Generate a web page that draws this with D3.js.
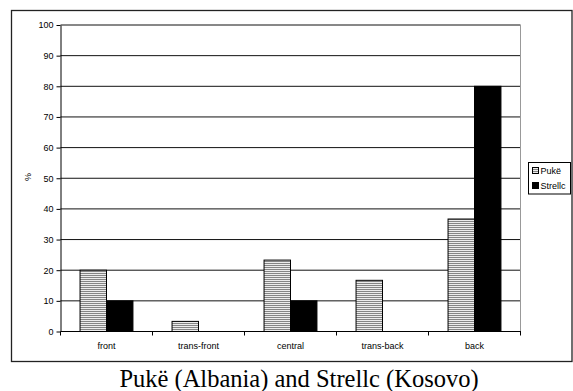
<!DOCTYPE html>
<html>
<head>
<meta charset="utf-8">
<script src="https://cdn.jsdelivr.net/npm/d3@7"></script>
<style>
  html, body { margin: 0; padding: 0; background: #fff; }
  svg { display: block; }
</style>
</head>
<body>
<svg id="chart" width="573" height="391"></svg>
<script>
// Position categories and the share (%) of each site
const categories = ["front", "trans-front", "central", "trans-back", "back"];
const seriesNames = ["Pukë", "Strellc"];
const pukeValues = [20, 3.3, 23.3, 16.7, 36.7];
const strellcValues = [10, 0, 10, 0, 80];
const yTicks = [0, 10, 20, 30, 40, 50, 60, 70, 80, 90, 100];
const titleText = "Pukë (Albania) and Strellc (Kosovo)";

const svg = d3.select("#chart");
const plot = { left: 60.5, right: 520.5, top: 25, bottom: 331.5 };
const sans = "Liberation Sans, Arial, sans-serif";

// Striped fill for the Pukë bars
const defs = svg.append("defs");
const pat = defs.append("pattern")
  .attr("id", "stripes")
  .attr("patternUnits", "userSpaceOnUse")
  .attr("width", 4).attr("height", 2);
pat.append("rect").attr("width", 4).attr("height", 2).attr("fill", "#ececec");
pat.append("rect").attr("y", 1).attr("width", 4).attr("height", 1).attr("fill", "#858585");

// Outer chart border
svg.append("rect")
  .attr("x", 11.5).attr("y", 10.5)
  .attr("width", 560.5).attr("height", 351)
  .attr("fill", "none").attr("stroke", "#222").attr("stroke-width", 1.3);

const x0 = d3.scaleBand().domain(categories).range([plot.left, plot.right]);
const y = d3.scaleLinear().domain([0, 100]).range([plot.bottom, plot.top]);

// Horizontal gridlines
svg.append("g").selectAll("line")
  .data(yTicks.filter(t => t > 0))
  .join("line")
  .attr("x1", plot.left).attr("x2", plot.right)
  .attr("y1", d => y(d)).attr("y2", d => y(d))
  .attr("stroke", "#111").attr("stroke-width", 1);

// Plot area right edge
svg.append("line")
  .attr("x1", plot.right).attr("x2", plot.right)
  .attr("y1", plot.top).attr("y2", plot.bottom)
  .attr("stroke", "#999").attr("stroke-width", 1);

// Bars
const barW = x0.bandwidth() * 0.2875;
const groups = categories.map((c, i) => ({ c, vals: [pukeValues[i], strellcValues[i]] }));
const g = svg.append("g");
groups.forEach(gr => {
  const cx = x0(gr.c) + x0.bandwidth() / 2;
  gr.vals.forEach((v, k) => {
    if (v <= 0) return;
    g.append("rect")
      .attr("x", cx - barW + k * barW)
      .attr("y", y(v))
      .attr("width", barW)
      .attr("height", y(0) - y(v))
      .attr("fill", k === 0 ? "url(#stripes)" : "#000")
      .attr("stroke", "#000").attr("stroke-width", 1);
  });
});

// Y axis
const yAxis = d3.axisLeft(y).tickValues(yTicks).tickSize(4).tickSizeOuter(0).tickPadding(3);
const ya = svg.append("g").attr("transform", `translate(${plot.left},0)`).call(yAxis);
ya.select(".domain").attr("stroke", "#000");
ya.selectAll(".tick line").attr("stroke", "#000");
ya.selectAll("text").attr("font-family", sans).attr("font-size", 9).attr("fill", "#000");

// X axis: ticks between categories
svg.append("line")
  .attr("x1", plot.left).attr("x2", plot.right + 0.5)
  .attr("y1", plot.bottom).attr("y2", plot.bottom)
  .attr("stroke", "#000");
const bounds = d3.range(categories.length + 1).map(i => plot.left + i * x0.step());
svg.append("g").selectAll("line").data(bounds).join("line")
  .attr("x1", d => d).attr("x2", d => d)
  .attr("y1", plot.bottom).attr("y2", plot.bottom + 4)
  .attr("stroke", "#000");
svg.append("g").selectAll("text").data(categories).join("text")
  .attr("x", d => x0(d) + x0.bandwidth() / 2)
  .attr("y", 348.5)
  .attr("text-anchor", "middle")
  .attr("font-family", sans)
  .attr("font-size", 9)
  .text(d => d);

// Y axis title
svg.append("text")
  .attr("transform", "translate(31,177) rotate(-90)")
  .attr("text-anchor", "middle")
  .attr("font-family", sans)
  .attr("font-size", 9)
  .text("%");

// Legend
const lg = svg.append("g");
lg.append("rect")
  .attr("x", 528.5).attr("y", 162.5).attr("width", 42).attr("height", 31.5)
  .attr("fill", "#fff").attr("stroke", "#000");
seriesNames.forEach((n, i) => {
  const yy = 171 + i * 15;
  lg.append("rect")
    .attr("x", 532.5).attr("y", yy - 3.5).attr("width", 6).attr("height", 6)
    .attr("fill", i === 0 ? "url(#stripes)" : "#000").attr("stroke", "#000");
  lg.append("text")
    .attr("x", 540.5).attr("y", yy + 3.2)
    .attr("font-family", sans)
    .attr("font-size", 9)
    .text(n);
});

// Caption below the chart
svg.append("text")
  .attr("x", 299).attr("y", 387)
  .attr("text-anchor", "middle")
  .attr("font-family", "Liberation Serif, Times New Roman, serif")
  .attr("font-size", 24.5)
  .text(titleText);
</script>
</body>
</html>
